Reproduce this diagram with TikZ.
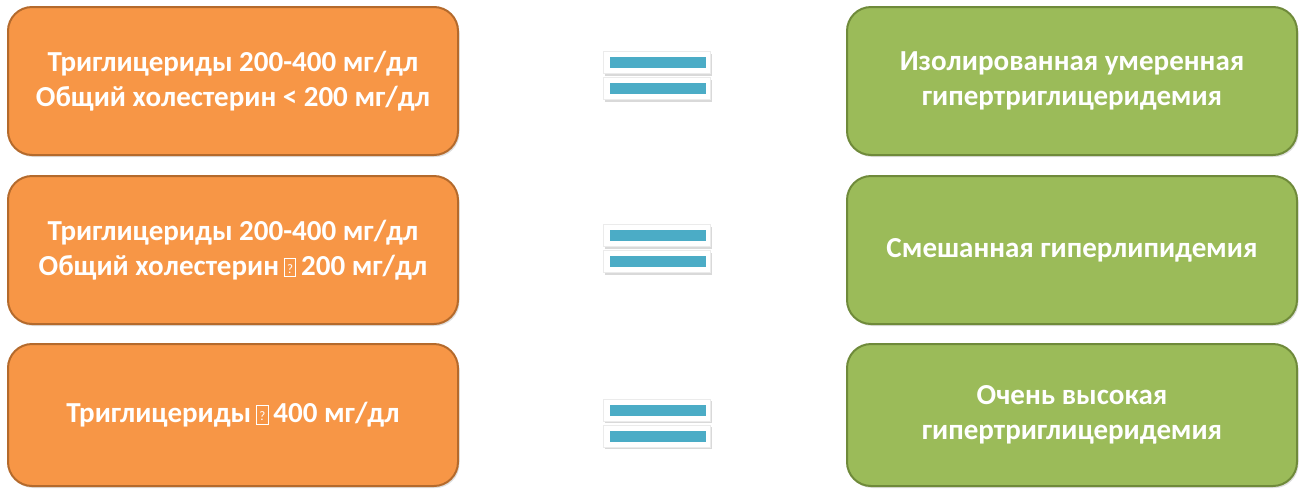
\documentclass[tikz,border=0pt]{standalone}
\usepackage{fontspec}
\setmainfont{Carlito}
\usetikzlibrary{shadows}
\definecolor{boxorange}{HTML}{F79646}
\definecolor{edgeorange}{HTML}{B46A2C}
\definecolor{boxgreen}{HTML}{9BBB59}
\definecolor{edgegreen}{HTML}{6F8A3A}
\definecolor{barteal}{HTML}{4BACC6}
% small boxed question mark standing in for an unrendered glyph
\newcommand{\qglyph}{{\setlength{\fboxsep}{0.8pt}\setlength{\fboxrule}{0.9pt}%
  \fbox{\rule{0pt}{16pt}\makebox[9pt]{\raisebox{2pt}{\fontsize{13}{13}\selectfont\mdseries ?}}}}}
\begin{document}
\begin{tikzpicture}[x=1pt,y=-1pt,
  card/.style={rounded corners=24pt, minimum width=450pt, minimum height=148pt,
    line width=2pt, text=white, align=center,
    font=\bfseries\fontsize{29}{35}\selectfont,
    drop shadow={opacity=0.25, shadow xshift=1.5pt, shadow yshift=-2pt}},
  condition/.style={card, fill=boxorange, draw=edgeorange},
  result/.style={card, fill=boxgreen, draw=edgegreen},
  barframe/.style={fill=white, draw=black!8, line width=0.6pt, minimum width=107pt, minimum height=22pt,
    inner sep=0pt, drop shadow={opacity=0.3, shadow xshift=1pt, shadow yshift=-2pt}},
  barfill/.style={fill=barteal, draw=none, minimum width=96pt, minimum height=11pt, inner sep=0pt}]
\useasboundingbox (0,0) rectangle (1304,488);

% left column: lipid levels
\node[condition] (c1) at (233,81) {Триглицериды 200-400 мг/дл\\Общий холестерин < 200 мг/дл};
\node[condition] (c2) at (233,250) {Триглицериды 200-400 мг/дл\\Общий холестерин\,\qglyph\,200 мг/дл};
\node[condition, minimum height=142pt] (c3) at (233,415) {Триглицериды\,\qglyph\,400 мг/дл};

% right column: diagnoses
\node[result] (r1) at (1072,81) {Изолированная умеренная\\гипертриглицеридемия};
\node[result] (r2) at (1072,250) {Смешанная гиперлипидемия};
\node[result, minimum height=142pt] (r3) at (1072,415) {Очень высокая\\гипертриглицеридемия};

% equals signs between the columns
\foreach \i/\cy in {1/75.5, 2/248.5, 3/423} {
  \node[barframe] (eq\i top) at (657,\cy-13) {};
  \node[barfill] (eq\i topbar) at (658,\cy-13) {};
  \node[barframe] (eq\i bot) at (657,\cy+13) {};
  \node[barfill] (eq\i botbar) at (658,\cy+13) {};
}
\end{tikzpicture}
\end{document}
